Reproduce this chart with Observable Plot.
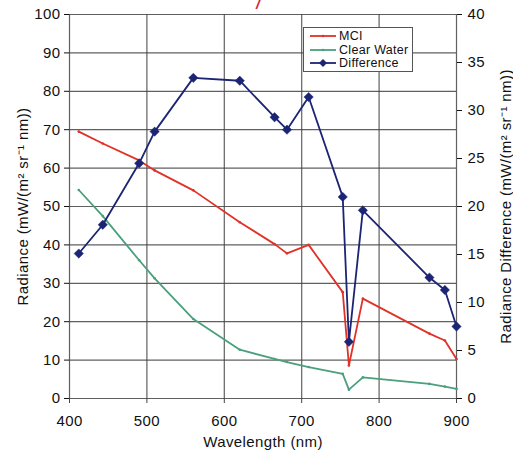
<!DOCTYPE html>
<html>
<head>
<meta charset="utf-8">
<script src="https://cdn.jsdelivr.net/npm/d3@7"></script>
<script src="https://cdn.jsdelivr.net/npm/@observablehq/plot@0.6"></script>
<style>
  html, body { margin: 0; padding: 0; background: #fff; }
  #wrap { position: relative; width: 513px; height: 452px; overflow: hidden; font-family: "Liberation Sans", Arial, sans-serif; }
  #legend { position: absolute; left: 303px; top: 27px; width: 110px; height: 45px; background: #fff; border: 1px solid #555; box-sizing: border-box; font-size: 12.5px; letter-spacing: 0.3px; color: #111; }
  #legend .row { position: absolute; left: 6px; height: 14px; display: flex; align-items: center; white-space: nowrap; }
  #legend svg { margin-right: 2px; flex: none; }
  #frag { position: absolute; left: 256px; top: -5px; color: #d42a3a; font-size: 15px; font-style: italic; font-weight: bold; }
</style>
</head>
<body>
<div id="wrap"><span id="frag">/</span></div>
<script>
// ---- data ----
const wavelengths = [412, 443, 490, 510, 560, 620, 665, 681, 709, 753, 761, 779, 865, 885, 900];
const mci         = [69.5, 66.4, 62.0, 59.4, 54.2, 45.9, 40.2, 37.8, 40.0, 27.7, 8.6, 26.0, 16.9, 15.1, 10.3];
const clearWater  = [54.3, 47.5, 36.0, 31.3, 20.7, 12.7, 10.3, 9.5, 8.2, 6.4, 2.3, 5.5, 3.8, 3.1, 2.5];
const difference  = [15.1, 18.1, 24.5, 27.8, 33.4, 33.1, 29.3, 28.0, 31.4, 21.0, 5.9, 19.6, 12.6, 11.3, 7.5];
const xTicks      = [400, 500, 600, 700, 800, 900];
const yTicks      = [0, 10, 20, 30, 40, 50, 60, 70, 80, 90, 100];
const rightTicks  = [0, 5, 10, 15, 20, 25, 30, 35, 40];
const seriesNames = ["MCI", "Clear Water", "Difference"];
const colors      = ["#e03228", "#4aa07c", "#1c2474"];
const rightLabel  = "Radiance Difference (mW/(m² sr⁻¹ nm))";

const ratio = 100 / 40; // right axis -> left axis units

const rows = wavelengths.map((w, i) => ({
  w, mci: mci[i], clear: clearWater[i], diff: difference[i] * ratio
}));

const chart = Plot.plot({
  width: 513,
  height: 452,
  marginTop: 14,
  marginRight: 57,
  marginBottom: 54,
  marginLeft: 69,
  style: { fontFamily: "'Liberation Sans', Arial, sans-serif", fontSize: "15px", color: "#111", background: "#fff" },
  x: { domain: [400, 900] },
  y: { domain: [0, 100] },
  marks: [
    Plot.gridX(xTicks, { stroke: "#444", strokeOpacity: 0.85, strokeWidth: 1.2 }),
    Plot.gridY(yTicks, { stroke: "#444", strokeOpacity: 0.85, strokeWidth: 1.2 }),
    Plot.axisX(xTicks, { tickSize: 5, tickPadding: 12, label: "Wavelength (nm)", labelAnchor: "center", labelArrow: "none", labelOffset: 48, fontSize: 15, stroke: "#444" }),
    Plot.axisY(yTicks, { anchor: "left", tickSize: 5, tickPadding: 4, label: "Radiance (mW/(m² sr⁻¹ nm))", labelAnchor: "center", labelArrow: "none", labelOffset: 52, fontSize: 15 }),
    Plot.axisY(rightTicks.map(v => v * ratio), { anchor: "right", tickSize: 5, tickPadding: 6, tickFormat: d => d / ratio, label: null, fontSize: 15 }),
    Plot.text([rightLabel], { frameAnchor: "right", textAnchor: "middle", text: d => d, rotate: -90, dx: 50, fontSize: 15, fill: "#111" }),
    Plot.line(rows, { x: "w", y: "clear", stroke: colors[1], strokeWidth: 1.8 }),
    Plot.dot(rows, { x: "w", y: "clear", r: 1.3, fill: colors[1] }),
    Plot.line(rows, { x: "w", y: "mci", stroke: colors[0], strokeWidth: 1.8 }),
    Plot.dot(rows, { x: "w", y: "mci", r: 1.3, fill: colors[0] }),
    Plot.line(rows, { x: "w", y: "diff", stroke: colors[2], strokeWidth: 1.8 }),
    Plot.dot(rows, { x: "w", y: "diff", symbol: "diamond2", r: 4.2, fill: colors[2], stroke: colors[2], strokeWidth: 0.5 })
  ]
});

chart.querySelectorAll("text").forEach(t => t.style.letterSpacing = "0.4px");

const wrap = document.getElementById("wrap");
wrap.appendChild(chart);

// legend overlay
const legend = document.createElement("div");
legend.id = "legend";
const rowTops = [1, 15, 28];
seriesNames.forEach((name, i) => {
  const r = document.createElement("div");
  r.className = "row";
  r.style.top = rowTops[i] + "px";
  const marker = i === 2
    ? `<path d="M13 3 L17 7 L13 11 L9 7 Z" fill="${colors[i]}"/>`
    : `<circle cx="13" cy="7" r="1.3" fill="${colors[i]}"/>`;
  r.innerHTML = `<svg width="27" height="14"><line x1="0" y1="7" x2="26" y2="7" stroke="${colors[i]}" stroke-width="1.8"/>${marker}</svg><span>${name}</span>`;
  legend.appendChild(r);
});
wrap.appendChild(legend);
</script>
</body>
</html>
